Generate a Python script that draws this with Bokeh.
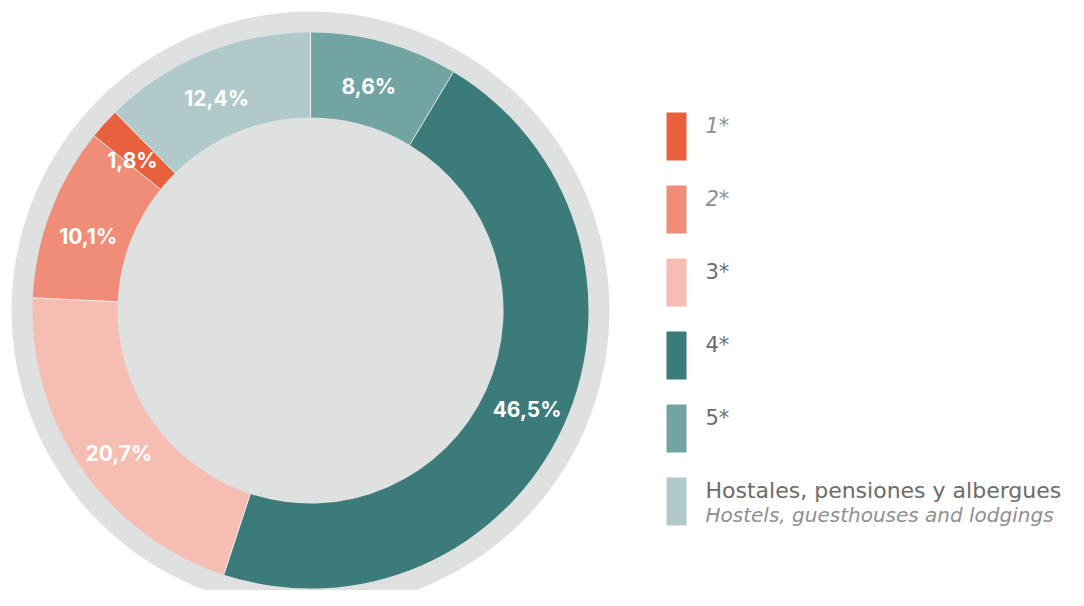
import numpy as np
from bokeh.plotting import figure
from bokeh.models import Range1d
from bokeh.core.properties import value
from bokeh.embed import file_html
from bokeh.resources import INLINE

# ---- data (clockwise from 12 o'clock) ----
categories = ["5*", "4*", "3*", "2*", "1*", "Hostales"]
shares = [8.6, 46.5, 20.7, 10.1, 1.8, 12.4]
labels = ["8,6%", "46,5%", "20,7%", "10,1%", "1,8%", "12,4%"]
colors = ["#72A4A3", "#3B7B79", "#F6BEB3", "#F08D78", "#E9603F", "#B0CACB"]

# ---- legend ----
legend_names = ["1*", "2*", "3*", "4*", "5*", "Hostales, pensiones y albergues"]
legend_colors = ["#E9603F", "#F08D78", "#F6BEB3", "#3B7B79", "#72A4A3", "#B0CACB"]
legend_italic = [True, True, False, False, False, False]
legend_sub = "Hostels, guesthouses and lodgings"

W, H = 1068, 590
FONT = "Inter"
LFONT = "DejaVu Sans"


def Y(ry):
    return H - ry


p = figure(width=W, height=H, output_backend="svg", toolbar_location=None,
           x_range=Range1d(0, W), y_range=Range1d(0, H), min_border=0)
p.axis.visible = False
p.grid.visible = False
p.outline_line_color = None
p.background_fill_color = "white"
p.border_fill_color = "white"

cx, cy = 310, Y(310)
R_RING, R_OUT, R_IN = 299, 278, 193
GRAY = "#DFE0E0"

# background ring and inner disc
p.circle(x=[cx], y=[cy], radius=R_RING, fill_color=GRAY, line_color=None)

total = float(sum(shares))
cum = np.concatenate([[0.0], np.cumsum(shares)])
start = np.pi / 2 - 2 * np.pi * cum[:-1] / total
end = np.pi / 2 - 2 * np.pi * cum[1:] / total

p.annular_wedge(x=cx, y=cy, inner_radius=R_IN, outer_radius=R_OUT,
                start_angle=list(start), end_angle=list(end), direction="clock",
                fill_color=colors, line_color=None)

# thin white separators
p.segment(x0=list(cx + R_IN * np.cos(start)), y0=list(cy + R_IN * np.sin(start)),
          x1=list(cx + R_OUT * np.cos(start)), y1=list(cy + R_OUT * np.sin(start)),
          line_color="white", line_width=1, line_alpha=0.8)

# percentage labels
mid = (start + end) / 2 + 0.02
R_LAB = 236
p.text(x=list(cx + R_LAB * np.cos(mid)), y=list(cy - 5 + R_LAB * np.sin(mid)), text=labels,
       text_align="center", text_baseline="middle", text_color="white",
       text_font=value(FONT), text_font_style="bold", text_font_size="21px")

# legend
n = len(legend_names)
tops = [112 + 73 * i for i in range(n)]
p.quad(left=666, right=686, top=[Y(t) for t in tops], bottom=[Y(t + 48) for t in tops],
       fill_color=legend_colors, line_color=None)

for i, name in enumerate(legend_names):
    p.text(x=[705], y=[Y(tops[i] + 13)], text=[name], text_align="left",
           text_baseline="alphabetic",
           text_color="#8f8f8f" if legend_italic[i] else "#6b6b6b",
           text_font=value(LFONT),
           text_font_style="italic" if legend_italic[i] else "normal",
           text_font_size="22px" if i == n - 1 else "21px")

p.text(x=[705], y=[Y(tops[-1] + 37)], text=[legend_sub], text_align="left",
       text_baseline="alphabetic", text_color="#8f8f8f", text_font=value(LFONT),
       text_font_style="italic", text_font_size="20px")

open("out.html", "w").write(file_html(p, INLINE))
